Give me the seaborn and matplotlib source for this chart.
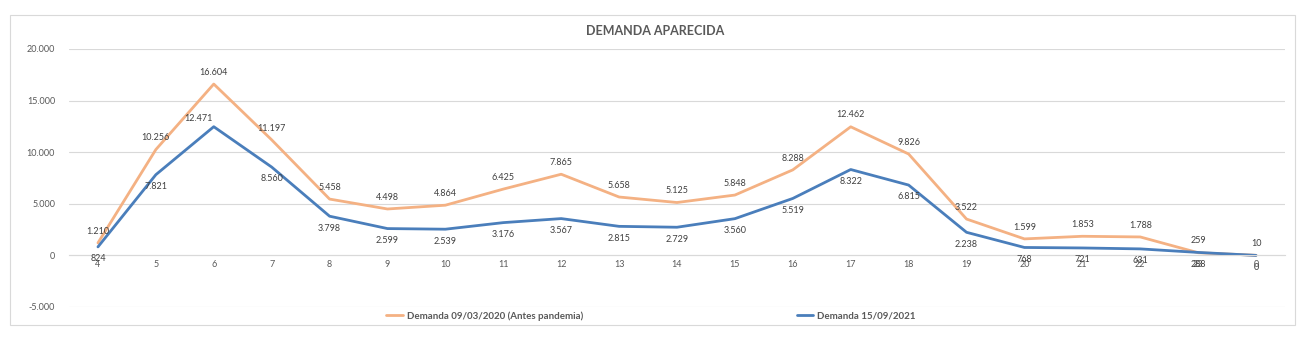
import numpy as np
import pandas as pd
import matplotlib
matplotlib.use("Agg")
import matplotlib.pyplot as plt
import seaborn as sns
from matplotlib.patches import Rectangle

hours = ["4", "5", "6", "7", "8", "9", "10", "11", "12", "13", "14", "15",
         "16", "17", "18", "19", "20", "21", "22", "23", "0"]
demanda_2020 = [1210, 10256, 16604, 11197, 5458, 4498, 4864, 6425, 7865, 5658,
                5125, 5848, 8288, 12462, 9826, 3522, 1599, 1853, 1788, 259, 10]
demanda_2021 = [824, 7821, 12471, 8560, 3798, 2599, 2539, 3176, 3567, 2815,
                2729, 3560, 5519, 8322, 6815, 2238, 768, 721, 631, 288, 0]
series_names = ["Demanda 09/03/2020 (Antes pandemia)", "Demanda 15/09/2021"]
colors = ["#F4B183", "#4A7EBB"]
y_ticks = [-5000, 0, 5000, 10000, 15000, 20000]

sns.set_theme(style="white")
plt.rcParams["font.family"] = ["Lato", "DejaVu Sans"]

pos = np.arange(len(hours))
df = pd.DataFrame({
    "pos": np.concatenate([pos, pos]),
    "valor": demanda_2020 + demanda_2021,
    "serie": [series_names[0]] * len(hours) + [series_names[1]] * len(hours),
})

fig = plt.figure(figsize=(13.09, 3.44), dpi=100)
ax = fig.add_axes([69 / 1309, 1 - 307 / 344, (1285 - 69) / 1309, (307 - 49) / 344])

sns.lineplot(data=df, x="pos", y="valor", hue="serie", palette=colors,
             hue_order=series_names, linewidth=2.0, ax=ax, legend=False, sort=False)

ax.set_xlim(-0.5, len(hours) - 0.5)
ax.set_ylim(-5000, 20000)
ax.set_yticks(y_ticks)
ax.set_yticklabels([f"{v:,}".replace(",", ".") for v in y_ticks])
ax.set_xticks(pos)
ax.set_xticklabels(hours)
ax.grid(axis="y", color="#D9D9D9", linewidth=0.8)
ax.set_axisbelow(True)
for s in ["top", "right", "left"]:
    ax.spines[s].set_visible(False)
ax.spines["bottom"].set_position(("data", 0))
ax.spines["bottom"].set_color("#D9D9D9")
ax.spines["bottom"].set_linewidth(0.8)
ax.tick_params(axis="both", length=0, labelsize=6.5, colors="#595959")
ax.tick_params(axis="x", pad=3)
ax.tick_params(axis="y", pad=10)
ax.set_xlabel("")
ax.set_ylabel("")


def fmt(v):
    return f"{v:,}".replace(",", ".")


for i, v in enumerate(demanda_2020):
    ax.annotate(fmt(v), (pos[i], v), xytext=(0, 8.5), textcoords="offset points",
                ha="center", va="center", fontsize=6.5, color="#404040")
for i, v in enumerate(demanda_2021):
    if i == 2:
        ax.annotate(fmt(v), (pos[i], v), xytext=(-11, 6), textcoords="offset points",
                    ha="center", va="center", fontsize=6.5, color="#404040")
    else:
        ax.annotate(fmt(v), (pos[i], v), xytext=(0, -8.5), textcoords="offset points",
                    ha="center", va="center", fontsize=6.5, color="#404040")

fig.text(655 / 1309, 1 - 31 / 344, "DEMANDA APARECIDA", ha="center", va="center",
         fontsize=9, fontweight="bold", color="#595959")

handles = [plt.Line2D([], [], color=c, linewidth=2.0) for c in colors]
fig.legend(handles, series_names, loc="center", bbox_to_anchor=(651 / 1309, 1 - 316 / 344),
           ncol=2, frameon=False, fontsize=7, handlelength=1.7, handletextpad=0.4,
           columnspacing=22, labelcolor="#595959", prop={"weight": "bold", "size": 7})

fig.patches.append(Rectangle((10 / 1309, 1 - 325 / 344), 1285 / 1309, 310 / 344,
                             transform=fig.transFigure, fill=False,
                             edgecolor="#D9D9D9", linewidth=0.8))

fig.savefig("out.png", dpi=100, facecolor="white")
